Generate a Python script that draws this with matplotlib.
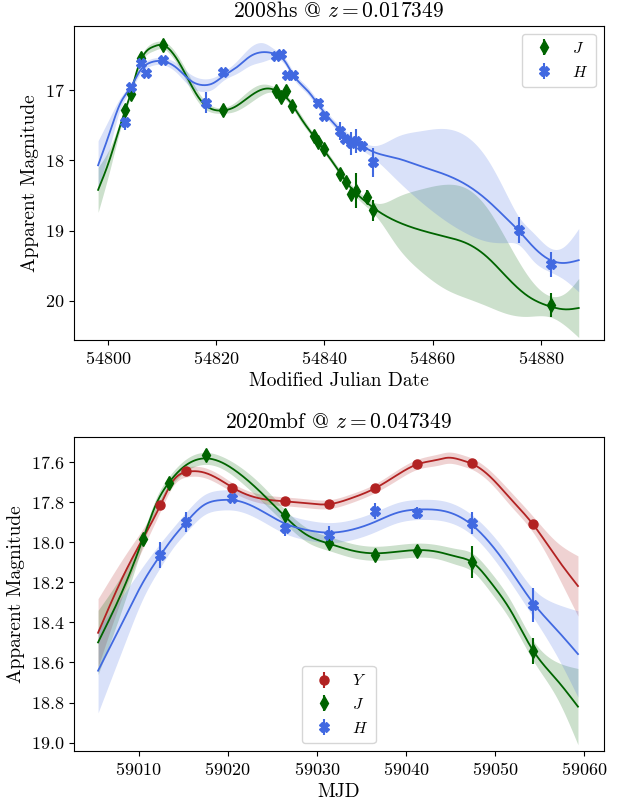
import numpy as np
import matplotlib
matplotlib.use("Agg")
import matplotlib.pyplot as plt

plt.rcParams['font.family'] = ['cmr10', 'DejaVu Serif']
plt.rcParams['mathtext.fontset'] = 'cm'
plt.rcParams['axes.formatter.use_mathtext'] = True
plt.rcParams['axes.unicode_minus'] = False

C_Y = '#b22222'
C_J = '#006400'
C_H = '#4169e1'

# ---------------- 2008hs data ----------------
hs_J_mjd = [54803.2, 54804.2, 54806.2, 54810.2, 54821.2, 54831.1, 54832.0, 54833.0, 54834.1,
            54838.0, 54838.9, 54840.0, 54842.9, 54844.0, 54845.0, 54845.9, 54847.9, 54849.0, 54881.8]
hs_J_mag = [17.28, 17.05, 16.55, 16.36, 17.29, 17.01, 17.10, 17.02, 17.22,
            17.66, 17.74, 17.84, 18.19, 18.31, 18.48, 18.43, 18.52, 18.71, 20.06]
hs_J_err = [0.04, 0.03, 0.03, 0.03, 0.04, 0.03, 0.03, 0.03, 0.03,
            0.04, 0.04, 0.04, 0.05, 0.05, 0.07, 0.25, 0.10, 0.15, 0.17]

hs_H_mjd = [54803.2, 54804.2, 54806.2, 54807.1, 54810.2, 54818.1, 54821.2, 54831.1, 54832.0,
            54833.1, 54834.2, 54838.9, 54840.0, 54842.9, 54843.9, 54845.0, 54845.9, 54846.9,
            54849.0, 54875.9, 54881.8]
hs_H_mag = [17.45, 16.96, 16.61, 16.75, 16.57, 17.18, 16.74, 16.52, 16.49,
            16.78, 16.79, 17.18, 17.37, 17.58, 17.69, 17.76, 17.73, 17.79,
            18.03, 18.99, 19.48]
hs_H_err = [0.12, 0.04, 0.04, 0.04, 0.04, 0.15, 0.04, 0.04, 0.04,
            0.04, 0.04, 0.05, 0.05, 0.13, 0.06, 0.17, 0.17, 0.06,
            0.20, 0.19, 0.18]

# fitted light-curve models (mean, 1-sigma)
hs_Jfit_mjd = [54798.2, 54800.5, 54802.3, 54804.2, 54805.4, 54806.6, 54808.5, 54810.2, 54811.5,
               54813.4, 54815.2, 54817.1, 54818.9, 54821.2, 54823.2, 54825.7, 54828.2, 54830.0,
               54831.4, 54832.4, 54833.7, 54835.5, 54837.4, 54839.9, 54842.3, 54844.8, 54847.2,
               54849.7, 54853.4, 54857.7, 54862.6, 54866.3, 54870.0, 54873.7, 54877.4, 54881.8,
               54884.8, 54887.0]
hs_Jfit_mag = [18.42, 17.95, 17.50, 17.05, 16.72, 16.50, 16.38, 16.36, 16.43,
               16.64, 16.90, 17.14, 17.26, 17.29, 17.25, 17.12, 17.00, 16.98,
               17.02, 17.07, 17.17, 17.38, 17.59, 17.85, 18.11, 18.38, 18.56,
               18.71, 18.87, 18.99, 19.09, 19.18, 19.37, 19.66, 19.92, 20.08,
               20.12, 20.10]
hs_Jfit_sig = [0.32, 0.15, 0.06, 0.04, 0.05, 0.05, 0.06, 0.05, 0.06,
               0.07, 0.08, 0.07, 0.05, 0.04, 0.06, 0.09, 0.08, 0.05,
               0.04, 0.04, 0.04, 0.05, 0.04, 0.04, 0.04, 0.05, 0.06,
               0.10, 0.35, 0.58, 0.75, 0.78, 0.70, 0.52, 0.30, 0.15,
               0.25, 0.42]

hs_Hfit_mjd = [54798.2, 54800.5, 54802.3, 54804.2, 54806.0, 54807.8, 54810.2, 54812.8, 54815.2,
               54817.7, 54819.5, 54821.2, 54823.9, 54826.3, 54828.8, 54831.0, 54832.5, 54834.3,
               54836.8, 54839.2, 54841.7, 54844.2, 54846.6, 54849.1, 54853.4, 54857.7, 54862.6,
               54866.3, 54870.0, 54873.7, 54875.9, 54878.6, 54881.8, 54884.2, 54887.0]
hs_Hfit_mag = [18.07, 17.57, 17.19, 16.96, 16.72, 16.61, 16.59, 16.69, 16.86,
               16.93, 16.90, 16.81, 16.67, 16.52, 16.46, 16.49, 16.57, 16.79,
               17.00, 17.24, 17.47, 17.66, 17.78, 17.88, 17.97, 18.08, 18.21,
               18.35, 18.56, 18.83, 19.00, 19.23, 19.42, 19.46, 19.42]
hs_Hfit_sig = [0.35, 0.20, 0.08, 0.05, 0.05, 0.05, 0.05, 0.07, 0.09,
               0.09, 0.08, 0.06, 0.09, 0.13, 0.13, 0.06, 0.05, 0.05,
               0.05, 0.05, 0.05, 0.06, 0.06, 0.09, 0.31, 0.50, 0.66,
               0.69, 0.59, 0.34, 0.20, 0.20, 0.17, 0.23, 0.45]

# ---------------- 2020mbf data ----------------
mbf_Y_mjd = [59012.45, 59015.36, 59020.49, 59026.40, 59031.33, 59036.50, 59041.26, 59047.43, 59054.28]
mbf_Y_mag = [17.816, 17.646, 17.733, 17.794, 17.811, 17.733, 17.613, 17.608, 17.912]
mbf_Y_err = [0.012, 0.012, 0.012, 0.012, 0.012, 0.012, 0.012, 0.012, 0.015]

mbf_J_mjd = [59010.46, 59013.38, 59017.58, 59026.40, 59031.33, 59036.50, 59041.26, 59047.43, 59054.28]
mbf_J_mag = [17.987, 17.708, 17.567, 17.866, 18.007, 18.065, 18.043, 18.098, 18.542]
mbf_J_err = [0.025, 0.02, 0.015, 0.03, 0.03, 0.02, 0.03, 0.08, 0.065]

mbf_H_mjd = [59012.45, 59015.36, 59020.49, 59026.40, 59031.33, 59036.50, 59041.26, 59047.43, 59054.28]
mbf_H_mag = [18.065, 17.899, 17.779, 17.932, 17.965, 17.846, 17.857, 17.904, 18.314]
mbf_H_err = [0.065, 0.05, 0.02, 0.04, 0.045, 0.04, 0.03, 0.055, 0.085]

mbf_Yfit_mjd = [59005.45, 59008.7, 59012.45, 59013.94, 59015.44, 59017.31, 59019.18, 59021.05,
                59023.67, 59026.40, 59028.91, 59031.4, 59033.77, 59036.50, 59039.01, 59041.26,
                59043.75, 59044.62, 59046.49, 59047.43, 59049.48, 59051.73, 59054.28, 59056.97,
                59059.32]
mbf_Yfit_mag = [18.452, 18.131, 17.816, 17.691, 17.650, 17.653, 17.691, 17.741,
                17.783, 17.797, 17.807, 17.811, 17.783, 17.733, 17.666, 17.613,
                17.588, 17.580, 17.595, 17.610, 17.675, 17.783, 17.912, 18.081,
                18.219]
mbf_Yfit_sig = [0.17, 0.08, 0.03, 0.025, 0.025, 0.025, 0.025, 0.022,
                0.022, 0.022, 0.022, 0.022, 0.022, 0.022, 0.025, 0.025,
                0.028, 0.028, 0.028, 0.028, 0.03, 0.035, 0.04, 0.08,
                0.15]

mbf_Jfit_mjd = [59005.45, 59008.7, 59010.46, 59012.08, 59013.38, 59015.07, 59017.58, 59019.18,
                59021.05, 59023.67, 59026.40, 59028.91, 59031.4, 59033.77, 59036.5, 59039.01,
                59041.26, 59043.5, 59045.74, 59047.43, 59049.48, 59051.73, 59054.28, 59056.97,
                59059.32]
mbf_Jfit_mag = [18.50, 18.19, 17.987, 17.80, 17.705, 17.625, 17.583, 17.60,
                17.65, 17.75, 17.871, 17.965, 18.008, 18.04, 18.056, 18.048,
                18.04, 18.048, 18.073, 18.10, 18.198, 18.339, 18.54, 18.688,
                18.82]
mbf_Jfit_sig = [0.16, 0.07, 0.03, 0.03, 0.03, 0.03, 0.03, 0.03,
                0.035, 0.04, 0.035, 0.035, 0.035, 0.035, 0.035, 0.035,
                0.035, 0.035, 0.04, 0.045, 0.05, 0.05, 0.05, 0.09,
                0.19]

mbf_Hfit_mjd = [59005.45, 59008.7, 59010.5, 59012.45, 59013.94, 59015.36, 59017.31, 59019.18,
                59021.05, 59023.67, 59026.40, 59028.91, 59031.4, 59033.77, 59036.50, 59039.01,
                59042.0, 59044.62, 59047.43, 59049.48, 59051.73, 59054.28, 59056.97, 59059.32]
mbf_Hfit_mag = [18.641, 18.355, 18.20, 18.065, 17.974, 17.90, 17.816, 17.791,
                17.794, 17.841, 17.907, 17.94, 17.953, 17.94, 17.90, 17.854,
                17.837, 17.849, 17.915, 18.007, 18.14, 18.303, 18.439, 18.558]
mbf_Hfit_sig = [0.21, 0.12, 0.08, 0.06, 0.05, 0.05, 0.05, 0.05,
                0.05, 0.05, 0.05, 0.05, 0.05, 0.05, 0.05, 0.05,
                0.05, 0.05, 0.05, 0.055, 0.06, 0.07, 0.13, 0.215]


def smooth(xk, yk, xs):
    """Natural cubic spline through knots (for drawing smooth model curves)."""
    xk = np.asarray(xk, float); yk = np.asarray(yk, float)
    n = len(xk)
    h = np.diff(xk)
    A = np.zeros((n, n)); b = np.zeros(n)
    A[0, 0] = 1; A[-1, -1] = 1
    for i in range(1, n - 1):
        A[i, i - 1] = h[i - 1]
        A[i, i] = 2 * (h[i - 1] + h[i])
        A[i, i + 1] = h[i]
        b[i] = 6 * ((yk[i + 1] - yk[i]) / h[i] - (yk[i] - yk[i - 1]) / h[i - 1])
    M = np.linalg.solve(A, b)
    idx = np.clip(np.searchsorted(xk, xs) - 1, 0, n - 2)
    x0 = xk[idx]; x1 = xk[idx + 1]; hh = x1 - x0
    t0 = x1 - xs; t1 = xs - x0
    return (M[idx] * t0 ** 3 / (6 * hh) + M[idx + 1] * t1 ** 3 / (6 * hh)
            + (yk[idx] / hh - M[idx] * hh / 6) * t0
            + (yk[idx + 1] / hh - M[idx + 1] * hh / 6) * t1)


def draw_fit(ax, t, m, s, color):
    xs = np.linspace(t[0], t[-1], 600)
    ym = smooth(t, m, xs)
    ys = np.clip(smooth(t, s, xs), 0.01, None)
    ax.fill_between(xs, ym - ys, ym + ys, color=color, alpha=0.2, lw=0)
    ax.plot(xs, ym, color=color, lw=1.3)


fig = plt.figure(figsize=(6.23, 8.05), dpi=100)
ax1 = fig.add_axes([0.1188, 0.5776, 0.8501, 0.3904])
ax2 = fig.add_axes([0.1188, 0.0671, 0.8501, 0.3904])

leg_kw = dict(fontsize=11.5, borderpad=0.45, handlelength=1.8, handletextpad=0.9,
              labelspacing=0.55)

# top panel
draw_fit(ax1, hs_Jfit_mjd, hs_Jfit_mag, hs_Jfit_sig, C_J)
draw_fit(ax1, hs_Hfit_mjd, hs_Hfit_mag, hs_Hfit_sig, C_H)
ax1.errorbar(hs_J_mjd, hs_J_mag, yerr=hs_J_err, fmt='d', color=C_J, ms=7.5, elinewidth=1.5,
             capsize=0, label='$J$')
ax1.errorbar(hs_H_mjd, hs_H_mag, yerr=hs_H_err, fmt='X', color=C_H, ms=7, elinewidth=1.5,
             capsize=0, label='$H$')
ax1.set_xlim(54793.75, 54891.6)
ax1.set_ylim(20.556, 16.085)
ax1.set_xticks([54800, 54820, 54840, 54860, 54880])
ax1.set_yticks([17, 18, 19, 20])
ax1.set_xlabel('Modified Julian Date', fontsize=14)
ax1.set_ylabel('Apparent Magnitude', fontsize=14)
ax1.set_title('2008hs @ $z = 0.017349$', fontsize=15.5)
ax1.legend(loc='upper right', **leg_kw)

# bottom panel
draw_fit(ax2, mbf_Yfit_mjd, mbf_Yfit_mag, mbf_Yfit_sig, C_Y)
draw_fit(ax2, mbf_Jfit_mjd, mbf_Jfit_mag, mbf_Jfit_sig, C_J)
draw_fit(ax2, mbf_Hfit_mjd, mbf_Hfit_mag, mbf_Hfit_sig, C_H)
ax2.errorbar(mbf_Y_mjd, mbf_Y_mag, yerr=mbf_Y_err, fmt='o', color=C_Y, ms=6.5, elinewidth=1.5,
             capsize=0, label='$Y$')
ax2.errorbar(mbf_J_mjd, mbf_J_mag, yerr=mbf_J_err, fmt='d', color=C_J, ms=7.5, elinewidth=1.5,
             capsize=0, label='$J$')
ax2.errorbar(mbf_H_mjd, mbf_H_mag, yerr=mbf_H_err, fmt='X', color=C_H, ms=7, elinewidth=1.5,
             capsize=0, label='$H$')
ax2.set_xlim(59002.75, 59062.2)
ax2.set_ylim(19.041, 17.475)
ax2.set_xticks([59010, 59020, 59030, 59040, 59050, 59060])
ax2.set_yticks([17.6, 17.8, 18.0, 18.2, 18.4, 18.6, 18.8, 19.0])
ax2.set_xlabel('MJD', fontsize=14)
ax2.set_ylabel('Apparent Magnitude', fontsize=14)
ax2.set_title('2020mbf @ $z = 0.047349$', fontsize=15.5)
ax2.legend(loc='lower center', **leg_kw)

for ax in (ax1, ax2):
    ax.tick_params(labelsize=13)
    ax.ticklabel_format(useOffset=False, style='plain', axis='x')

fig.savefig('out.png', dpi=100)
